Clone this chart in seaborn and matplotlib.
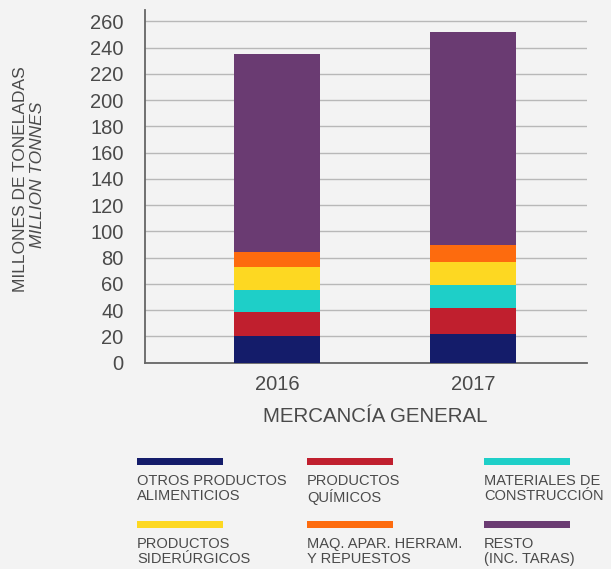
import pandas as pd
import matplotlib.pyplot as plt
import seaborn as sns
from matplotlib.patches import Rectangle

# data (million tonnes)
years = ["2016", "2017"]
categories = [
    "OTROS PRODUCTOS\nALIMENTICIOS",
    "PRODUCTOS\nQUÍMICOS",
    "MATERIALES DE\nCONSTRUCCIÓN",
    "PRODUCTOS\nSIDERÚRGICOS",
    "MAQ. APAR. HERRAM.\nY REPUESTOS",
    "RESTO\n(INC. TARAS)",
]
values_2016 = [20.3, 18.0, 16.7, 17.7, 11.4, 151.0]
values_2017 = [21.5, 20.0, 17.7, 17.8, 12.7, 162.3]
colors = ["#141c6a", "#c01f2e", "#1ecfc8", "#fdd822", "#fd6b0e", "#6a3b72"]

bg = "#f3f3f3"
text_col = "#4a4a4a"

sns.set_style("white")
plt.rcParams["font.family"] = ["Liberation Sans", "DejaVu Sans"]

df = pd.DataFrame({
    "year": years * len(categories),
    "category": [c for c in categories for _ in years],
    "value": [v for pair in zip(values_2016, values_2017) for v in pair],
})
df["cum"] = df.groupby("year")["value"].cumsum()

fig = plt.figure(figsize=(6.11, 5.69), dpi=100, facecolor=bg)
ax = fig.add_axes([0.2373, 0.3626, 0.7234, 0.6198])
ax.set_facecolor(bg)

# stacked bars: draw cumulative totals from the top segment down
for cat, col in reversed(list(zip(categories, colors))):
    sub = df[df["category"] == cat]
    sns.barplot(data=sub, x="year", y="cum", order=years, color=col,
                width=0.44, errorbar=None, saturation=1, linewidth=0, ax=ax, zorder=3)

ax.set_xlim(-0.673, 1.582)
ax.set_ylim(0, 268.6)
ax.set_yticks(range(0, 261, 20))
ax.yaxis.grid(True, color="#b8b8b8", linewidth=1.0, zorder=0)
ax.set_axisbelow(True)

for s in ["top", "right"]:
    ax.spines[s].set_visible(False)
for s in ["left", "bottom"]:
    ax.spines[s].set_color("#666666")
    ax.spines[s].set_linewidth(1.3)

ax.tick_params(axis="y", length=4.3, color="#b8b8b8", pad=11, labelsize=14.5, labelcolor=text_col)
ax.tick_params(axis="x", which="major", length=0, pad=9, labelsize=14.5, labelcolor=text_col)
ax.set_xticks([-0.673, 1.582], minor=True)
ax.tick_params(axis="x", which="minor", length=7, width=1.3, color="#666666", direction="out")

ax.set_ylabel("")
ax.set_xlabel("MERCANCÍA GENERAL", fontsize=14.8, color=text_col)
ax.xaxis.set_label_coords((0.5 + 0.673) / 2.255, -0.125)
ax.xaxis.label.set_va("top")

fig.text(21 / 611, 1 - 179 / 569, "MILLONES DE TONELADAS", rotation=90,
         ha="center", va="center", fontsize=12.5, color=text_col)
fig.text(38 / 611, 1 - 175 / 569, "MILLION TONNES", rotation=90, style="italic",
         ha="center", va="center", fontsize=12.5, color=text_col)

# legend: colour strip above a two-line label, three columns
W, H = 611, 569
col_x = [137, 307, 484]
row_y = [458, 521]
for i, (cat, col) in enumerate(zip(categories, colors)):
    x0 = col_x[i % 3]
    y0 = row_y[i // 3]
    fig.add_artist(Rectangle((x0 / W, 1 - (y0 + 7) / H), 86 / W, 7 / H,
                             transform=fig.transFigure, facecolor=col, edgecolor="none"))
    fig.text(x0 / W, 1 - (y0 + 16) / H, cat, ha="left", va="top",
             fontsize=10.5, color=text_col, linespacing=1.05)

fig.savefig("out.png", dpi=100, facecolor=bg)
